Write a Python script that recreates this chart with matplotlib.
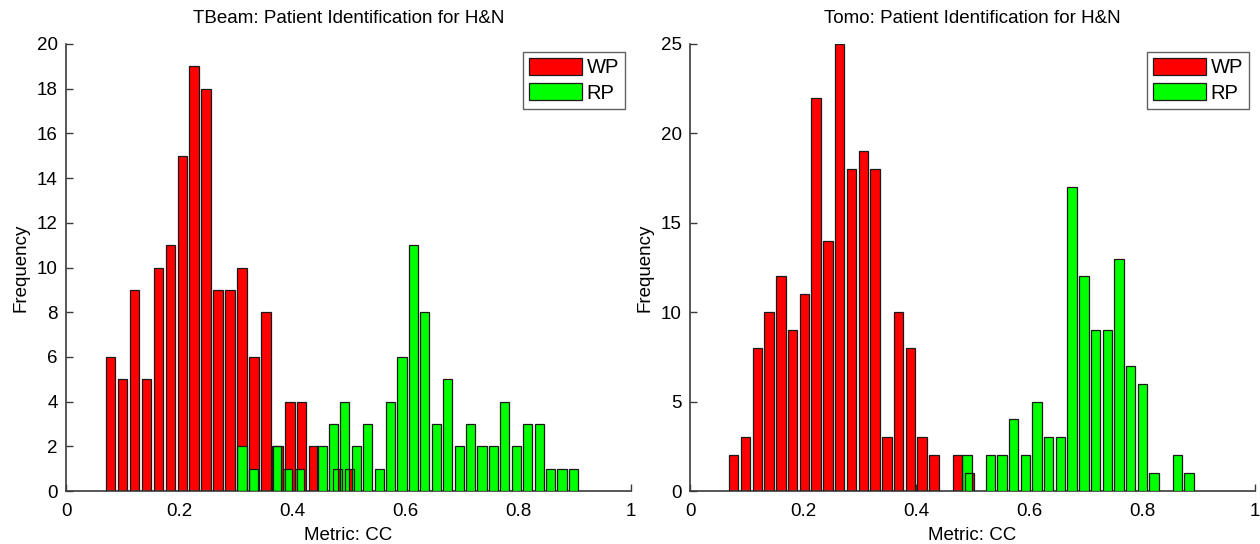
import numpy as np
import matplotlib
matplotlib.use("Agg")
import matplotlib.pyplot as plt
from matplotlib.patches import Patch

plt.rcParams['font.family'] = ['Liberation Sans', 'DejaVu Sans']

# ---- Data: histogram counts (bin centres spread evenly between first/last centre) ----
titles = ["TBeam: Patient Identification for H&N", "Tomo: Patient Identification for H&N"]
legend_labels = ["WP", "RP"]

tbeam_wp_range = (0.0791, 0.5016)
tbeam_wp_counts = [6, 5, 9, 5, 10, 11, 15, 19, 18, 9, 9, 10, 6, 8, 2, 4, 4, 2, 0, 1, 1]
tbeam_rp_range = (0.3115, 0.8980)
tbeam_rp_counts = [2, 1, 0, 2, 1, 1, 0, 2, 3, 4, 2, 3, 1, 4, 6, 11, 8, 3, 5, 2,
                   3, 2, 2, 4, 2, 3, 3, 1, 1, 1]

tomo_wp_range = (0.0773, 0.4943)
tomo_wp_counts = [2, 3, 8, 10, 12, 9, 11, 22, 14, 25, 18, 19, 18, 3, 10, 8, 3, 2, 0, 2, 1]
tomo_rp_range = (0.4903, 0.8832)
tomo_rp_counts = [2, 0, 2, 2, 4, 2, 5, 3, 3, 17, 12, 9, 9, 13, 7, 6, 1, 0, 2, 1]

y_ticks = [[0, 2, 4, 6, 8, 10, 12, 14, 16, 18, 20], [0, 5, 10, 15, 20, 25]]
x_ticks = [0, 0.2, 0.4, 0.6, 0.8, 1]
x_ticklabels = ["0", "0.2", "0.4", "0.6", "0.8", "1"]

RED = "#ff0000"
GREEN = "#00ff00"
EDGE = "#1a1a1a"
AXC = "#3a3a3a"

fig = plt.figure(figsize=(12.6, 5.44), dpi=100)
W, H = 1260, 544
panels = [
    (66, tbeam_wp_range, tbeam_wp_counts, tbeam_rp_range, tbeam_rp_counts, 20),
    (690, tomo_wp_range, tomo_wp_counts, tomo_rp_range, tomo_rp_counts, 25),
]

for i, (x0, wr, wc, rr, rc, ymax) in enumerate(panels):
    ax = fig.add_axes([x0 / W, (H - 491) / H, 565 / W, 447 / H])
    series = []
    for rng, cnt, col in [(wr, wc, RED), (rr, rc, GREEN)]:
        n = len(cnt)
        centers = np.linspace(rng[0], rng[1], n)
        bw = (rng[1] - rng[0]) / (n - 1)
        series.append((centers, np.array(cnt), bw, col))
    # faces first
    for z, (c, v, bw, col) in enumerate(series):
        ax.bar(c, v, width=0.8 * bw, color=col, edgecolor='none', linewidth=0, zorder=2 + z)
    # edges on top (as in the reference rendering)
    for c, v, bw, col in series:
        mask = v > 0
        ax.bar(c[mask], v[mask], width=0.8 * bw, facecolor='none', edgecolor=EDGE,
               linewidth=0.9, zorder=5)
    ax.set_xlim(0, 1)
    ax.set_ylim(0, ymax)
    ax.set_xticks(x_ticks)
    ax.set_xticklabels(x_ticklabels)
    ax.set_yticks(y_ticks[i])
    ax.tick_params(direction='in', length=5, width=1, colors=AXC, labelcolor='black',
                   labelsize=13.5)
    ax.tick_params(axis='x', pad=9)
    ax.tick_params(axis='y', pad=6)
    for s in ['top', 'right']:
        ax.spines[s].set_visible(False)
    for s in ['left', 'bottom']:
        ax.spines[s].set_color(AXC)
        ax.spines[s].set_linewidth(1.2)
    ax.set_title(titles[i], fontsize=13.5, pad=15)
    ax.set_xlabel("Metric: CC", fontsize=13.5, labelpad=5)
    ax.set_ylabel("Frequency", fontsize=13.5, labelpad=5)
    lh = [Patch(facecolor=RED, edgecolor=EDGE, linewidth=0.9),
          Patch(facecolor=GREEN, edgecolor=EDGE, linewidth=0.9)]
    leg = ax.legend(lh, legend_labels, loc='upper right', fontsize=14.5, frameon=True,
                    fancybox=False, handlelength=2.6, handleheight=0.9, handletextpad=0.25,
                    borderpad=0.3, labelspacing=0.3, borderaxespad=0.0,
                    bbox_to_anchor=(559 / 565, 1 - 8 / 447))
    leg.get_frame().set_edgecolor(AXC)
    leg.get_frame().set_linewidth(1.0)

fig.savefig("out.png", dpi=100)
